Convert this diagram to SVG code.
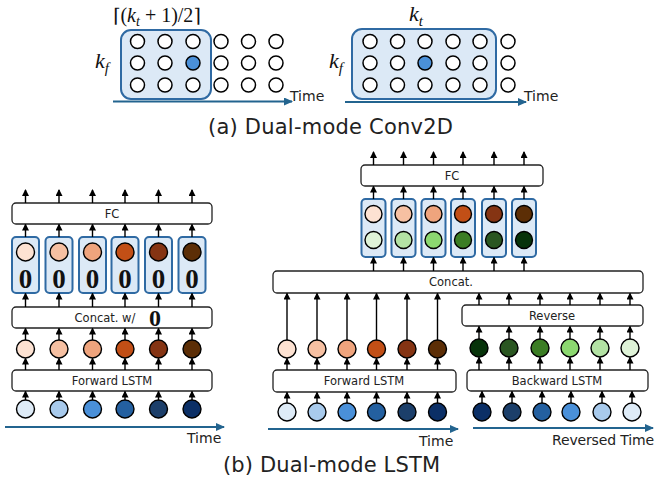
<svg xmlns="http://www.w3.org/2000/svg" width="656" height="485" viewBox="0 0 656 485">
<defs>
<marker id="ah" markerWidth="7" markerHeight="7" refX="6" refY="3.5" orient="auto" markerUnits="userSpaceOnUse"><path d="M0,0 L7,3.5 L0,7 z" fill="#000"/></marker>
<marker id="bh" markerWidth="9" markerHeight="8" refX="8" refY="4" orient="auto" markerUnits="userSpaceOnUse"><path d="M0,0 L9,4 L0,8 z" fill="#23648f"/></marker>
<style>
.box{fill:#fff;stroke:#222;stroke-width:1.3}
.cell{fill:#dce9f6;stroke:#2f6aa3;stroke-width:2}
.grid{fill:#dce9f6;stroke:#2f6aa3;stroke-width:2}
.c{stroke:#000;stroke-width:1.4}
.w{fill:#fff;stroke:#000;stroke-width:1.5}
.ar line{stroke:#000;stroke-width:1.4;marker-end:url(#ah)}
.time{stroke:#23648f;stroke-width:2;marker-end:url(#bh);fill:none}
.lbl{font-family:'DejaVu Sans','Noto Sans',sans-serif;font-size:11.5px;fill:#222;text-anchor:middle}
.tl{font-family:'DejaVu Sans','Noto Sans',sans-serif;font-size:14px;fill:#222}
.cap{font-family:'DejaVu Sans','Noto Sans',sans-serif;font-size:21px;fill:#222}
.zero{font-family:'Liberation Serif','DejaVu Serif',serif;font-weight:bold;font-size:27px;fill:#111;text-anchor:middle}
.math{font-family:'Liberation Serif','DejaVu Serif',serif;fill:#111}
</style>
</defs>

<!-- (a) left conv -->
<g id="conv-left">
<rect class="grid" x="121" y="30" width="90" height="69" rx="10"/>
<g>
<circle class="w" cx="137.5" cy="41.5" r="7"/><circle class="w" cx="165" cy="41.5" r="7"/><circle class="w" cx="193" cy="41.5" r="7"/><circle class="w" cx="221" cy="41.5" r="7"/><circle class="w" cx="248.5" cy="41.5" r="7"/><circle class="w" cx="276" cy="41.5" r="7"/>
<circle class="w" cx="137.5" cy="63" r="7"/><circle class="w" cx="165" cy="63" r="7"/><circle class="w" cx="193" cy="63" r="7" style="fill:#4a90d9"/><circle class="w" cx="221" cy="63" r="7"/><circle class="w" cx="248.5" cy="63" r="7"/><circle class="w" cx="276" cy="63" r="7"/>
<circle class="w" cx="137.5" cy="85" r="7"/><circle class="w" cx="165" cy="85" r="7"/><circle class="w" cx="193" cy="85" r="7"/><circle class="w" cx="221" cy="85" r="7"/><circle class="w" cx="248.5" cy="85" r="7"/><circle class="w" cx="276" cy="85" r="7"/>
</g>
<text class="math" x="113" y="22" font-size="20"><tspan font-family="'DejaVu Serif',serif" font-size="19">⌈</tspan>(<tspan font-style="italic">k</tspan><tspan font-style="italic" font-size="14" dy="4">t</tspan><tspan dy="-4"> + 1)/2</tspan><tspan font-family="'DejaVu Serif',serif" font-size="19">⌉</tspan></text>
<text class="math" x="95" y="68" font-size="22" font-style="italic">k<tspan font-size="15" dy="5">f</tspan></text>
<line class="time" x1="113" y1="101.5" x2="292" y2="101.5"/>
<text class="tl" x="290" y="101">Time</text>
</g>

<!-- (a) right conv -->
<g id="conv-right">
<rect class="grid" x="352" y="29" width="144" height="70" rx="10"/>
<g>
<circle class="w" cx="370" cy="41.5" r="7"/><circle class="w" cx="397.5" cy="41.5" r="7"/><circle class="w" cx="425" cy="41.5" r="7"/><circle class="w" cx="453" cy="41.5" r="7"/><circle class="w" cx="480" cy="41.5" r="7"/><circle class="w" cx="508" cy="41.5" r="7"/>
<circle class="w" cx="370" cy="63" r="7"/><circle class="w" cx="397.5" cy="63" r="7"/><circle class="w" cx="425" cy="63" r="7" style="fill:#4a90d9"/><circle class="w" cx="453" cy="63" r="7"/><circle class="w" cx="480" cy="63" r="7"/><circle class="w" cx="508" cy="63" r="7"/>
<circle class="w" cx="370" cy="85" r="7"/><circle class="w" cx="397.5" cy="85" r="7"/><circle class="w" cx="425" cy="85" r="7"/><circle class="w" cx="453" cy="85" r="7"/><circle class="w" cx="480" cy="85" r="7"/><circle class="w" cx="508" cy="85" r="7"/>
</g>
<text class="math" x="409" y="21" font-size="22" font-style="italic">k<tspan font-size="15" dy="5">t</tspan></text>
<text class="math" x="329" y="68" font-size="22" font-style="italic">k<tspan font-size="15" dy="5">f</tspan></text>
<line class="time" x1="345" y1="102" x2="526" y2="102"/>
<text class="tl" x="524" y="101">Time</text>
</g>

<text class="cap" x="208" y="134" textLength="245">(a) Dual-mode Conv2D</text>

<!-- (b) left -->
<g id="left-fc"><rect class="box" x="12" y="203" width="200" height="21" rx="4"/><text class="lbl" x="112" y="218">FC</text></g>
<g id="left-cells">
<rect class="cell" x="12" y="237" width="27" height="56" rx="4"/>
<rect class="cell" x="45.5" y="237" width="27" height="56" rx="4"/>
<rect class="cell" x="79" y="237" width="27" height="56" rx="4"/>
<rect class="cell" x="111.5" y="237" width="27" height="56" rx="4"/>
<rect class="cell" x="145" y="237" width="27" height="56" rx="4"/>
<rect class="cell" x="178.5" y="237" width="27" height="56" rx="4"/>
<circle class="c" cx="25.5" cy="252" r="9" fill="#fde2d2"/>
<circle class="c" cx="59" cy="252" r="9" fill="#f6c0a2"/>
<circle class="c" cx="92.5" cy="252" r="9" fill="#efa47d"/>
<circle class="c" cx="125" cy="252" r="9" fill="#c24f16"/>
<circle class="c" cx="158.5" cy="252" r="9" fill="#853413"/>
<circle class="c" cx="192" cy="252" r="9" fill="#5c2e06"/>
<text class="zero" x="25.5" y="288">0</text><text class="zero" x="59" y="288">0</text><text class="zero" x="92.5" y="288">0</text><text class="zero" x="125" y="288">0</text><text class="zero" x="158.5" y="288">0</text><text class="zero" x="192" y="288">0</text>
</g>
<g id="left-concat"><rect class="box" x="12" y="307" width="200" height="21" rx="4"/><text class="lbl" x="105" y="322">Concat. w/</text><text class="zero" x="155" y="326" style="font-size:24px">0</text></g>
<g id="left-fwd-out">
<circle class="c" cx="25.5" cy="349" r="9" fill="#fde2d2"/>
<circle class="c" cx="59" cy="349" r="9" fill="#f6c0a2"/>
<circle class="c" cx="92.5" cy="349" r="9" fill="#efa47d"/>
<circle class="c" cx="125" cy="349" r="9" fill="#c24f16"/>
<circle class="c" cx="158.5" cy="349" r="9" fill="#853413"/>
<circle class="c" cx="192" cy="349" r="9" fill="#5c2e06"/>
</g>
<g id="left-lstm"><rect class="box" x="12" y="370" width="200" height="21" rx="4"/><text class="lbl" x="112" y="385">Forward LSTM</text></g>
<g id="left-input">
<circle class="c" cx="25.5" cy="409" r="9" fill="#deebf7"/>
<circle class="c" cx="59" cy="409" r="9" fill="#a8caec"/>
<circle class="c" cx="92.5" cy="409" r="9" fill="#4a90d9"/>
<circle class="c" cx="125" cy="409" r="9" fill="#2460a0"/>
<circle class="c" cx="158.5" cy="409" r="9" fill="#1c3f6a"/>
<circle class="c" cx="192" cy="409" r="9" fill="#0b2f66"/>
</g>

<!-- (b) right -->
<g id="right-fc"><rect class="box" x="361" y="165" width="182" height="21" rx="4"/><text class="lbl" x="452" y="180">FC</text></g>
<g id="right-cells">
<rect class="cell" x="361.5" y="199" width="24" height="58" rx="4"/>
<rect class="cell" x="391.5" y="199" width="24" height="58" rx="4"/>
<rect class="cell" x="421.5" y="199" width="24" height="58" rx="4"/>
<rect class="cell" x="451" y="199" width="24" height="58" rx="4"/>
<rect class="cell" x="482" y="199" width="24" height="58" rx="4"/>
<rect class="cell" x="512" y="199" width="24" height="58" rx="4"/>
<circle class="c" cx="373.5" cy="214" r="8.5" fill="#fde2d2"/>
<circle class="c" cx="403.5" cy="214" r="8.5" fill="#f6c0a2"/>
<circle class="c" cx="433.5" cy="214" r="8.5" fill="#efa47d"/>
<circle class="c" cx="463" cy="214" r="8.5" fill="#c24f16"/>
<circle class="c" cx="494" cy="214" r="8.5" fill="#853413"/>
<circle class="c" cx="524" cy="214" r="8.5" fill="#5c2e06"/>
<circle class="c" cx="373.5" cy="240" r="8.5" fill="#dff3d8"/>
<circle class="c" cx="403.5" cy="240" r="8.5" fill="#b3e2a4"/>
<circle class="c" cx="433.5" cy="240" r="8.5" fill="#8cd870"/>
<circle class="c" cx="463" cy="240" r="8.5" fill="#3b7d24"/>
<circle class="c" cx="494" cy="240" r="8.5" fill="#2a5621"/>
<circle class="c" cx="524" cy="240" r="8.5" fill="#07330a"/>
</g>
<g id="right-concat"><rect class="box" x="273" y="271" width="370" height="22" rx="4"/><text class="lbl" x="451" y="286">Concat.</text></g>
<g id="right-reverse"><rect class="box" x="462" y="305" width="181" height="21" rx="4"/><text class="lbl" x="552" y="320">Reverse</text></g>
<g id="right-fwd-out">
<circle class="c" cx="287" cy="349" r="9" fill="#fde2d2"/>
<circle class="c" cx="317" cy="349" r="9" fill="#f6c0a2"/>
<circle class="c" cx="347" cy="349" r="9" fill="#efa47d"/>
<circle class="c" cx="376.5" cy="349" r="9" fill="#c24f16"/>
<circle class="c" cx="407" cy="349" r="9" fill="#853413"/>
<circle class="c" cx="437.5" cy="349" r="9" fill="#5c2e06"/>
</g>
<g id="right-bwd-out">
<circle class="c" cx="479" cy="348" r="9" fill="#07330a"/>
<circle class="c" cx="509" cy="348" r="9" fill="#2a5621"/>
<circle class="c" cx="540" cy="348" r="9" fill="#3b7d24"/>
<circle class="c" cx="570" cy="348" r="9" fill="#8cd870"/>
<circle class="c" cx="600" cy="348" r="9" fill="#b3e2a4"/>
<circle class="c" cx="630" cy="348" r="9" fill="#dff3d8"/>
</g>
<g id="right-fwd-lstm"><rect class="box" x="273" y="370" width="183" height="22" rx="4"/><text class="lbl" x="364" y="385">Forward LSTM</text></g>
<g id="right-bwd-lstm"><rect class="box" x="467" y="370" width="181" height="21" rx="4"/><text class="lbl" x="557" y="385">Backward LSTM</text></g>
<g id="right-fwd-input">
<circle class="c" cx="287" cy="412" r="9" fill="#deebf7"/>
<circle class="c" cx="317" cy="412" r="9" fill="#a8caec"/>
<circle class="c" cx="347" cy="412" r="9" fill="#4a90d9"/>
<circle class="c" cx="376.5" cy="412" r="9" fill="#2460a0"/>
<circle class="c" cx="407" cy="412" r="9" fill="#1c3f6a"/>
<circle class="c" cx="437.5" cy="412" r="9" fill="#0b2f66"/>
</g>
<g id="right-bwd-input">
<circle class="c" cx="482" cy="412" r="9" fill="#0b2f66"/>
<circle class="c" cx="512" cy="412" r="9" fill="#1c3f6a"/>
<circle class="c" cx="542" cy="412" r="9" fill="#2460a0"/>
<circle class="c" cx="571" cy="412" r="9" fill="#4a90d9"/>
<circle class="c" cx="602" cy="412" r="9" fill="#a8caec"/>
<circle class="c" cx="632" cy="412" r="9" fill="#deebf7"/>
</g>

<g id="connectors">
<g class="ar">
<line x1="25.5" y1="203" x2="25.5" y2="190"/><line x1="59" y1="203" x2="59" y2="190"/><line x1="92.5" y1="203" x2="92.5" y2="190"/><line x1="125" y1="203" x2="125" y2="190"/><line x1="158.5" y1="203" x2="158.5" y2="190"/><line x1="192" y1="203" x2="192" y2="190"/>
<line x1="25.5" y1="237" x2="25.5" y2="224.5"/><line x1="59" y1="237" x2="59" y2="224.5"/><line x1="92.5" y1="237" x2="92.5" y2="224.5"/><line x1="125" y1="237" x2="125" y2="224.5"/><line x1="158.5" y1="237" x2="158.5" y2="224.5"/><line x1="192" y1="237" x2="192" y2="224.5"/>
<line x1="25.5" y1="307" x2="25.5" y2="293.5"/><line x1="59" y1="307" x2="59" y2="293.5"/><line x1="92.5" y1="307" x2="92.5" y2="293.5"/><line x1="125" y1="307" x2="125" y2="293.5"/><line x1="158.5" y1="307" x2="158.5" y2="293.5"/><line x1="192" y1="307" x2="192" y2="293.5"/>
<line x1="25.5" y1="340" x2="25.5" y2="328.5"/><line x1="59" y1="340" x2="59" y2="328.5"/><line x1="92.5" y1="340" x2="92.5" y2="328.5"/><line x1="125" y1="340" x2="125" y2="328.5"/><line x1="158.5" y1="340" x2="158.5" y2="328.5"/><line x1="192" y1="340" x2="192" y2="328.5"/>
<line x1="25.5" y1="370" x2="25.5" y2="358.5"/><line x1="59" y1="370" x2="59" y2="358.5"/><line x1="92.5" y1="370" x2="92.5" y2="358.5"/><line x1="125" y1="370" x2="125" y2="358.5"/><line x1="158.5" y1="370" x2="158.5" y2="358.5"/><line x1="192" y1="370" x2="192" y2="358.5"/>
<line x1="25.5" y1="400" x2="25.5" y2="391.5"/><line x1="59" y1="400" x2="59" y2="391.5"/><line x1="92.5" y1="400" x2="92.5" y2="391.5"/><line x1="125" y1="400" x2="125" y2="391.5"/><line x1="158.5" y1="400" x2="158.5" y2="391.5"/><line x1="192" y1="400" x2="192" y2="391.5"/>
<line x1="373.5" y1="165" x2="373.5" y2="152"/><line x1="403.5" y1="165" x2="403.5" y2="152"/><line x1="433.5" y1="165" x2="433.5" y2="152"/><line x1="463" y1="165" x2="463" y2="152"/><line x1="494" y1="165" x2="494" y2="152"/><line x1="524" y1="165" x2="524" y2="152"/>
<line x1="373.5" y1="199" x2="373.5" y2="186.5"/><line x1="403.5" y1="199" x2="403.5" y2="186.5"/><line x1="433.5" y1="199" x2="433.5" y2="186.5"/><line x1="463" y1="199" x2="463" y2="186.5"/><line x1="494" y1="199" x2="494" y2="186.5"/><line x1="524" y1="199" x2="524" y2="186.5"/>
<line x1="373.5" y1="271" x2="373.5" y2="257.5"/><line x1="403.5" y1="271" x2="403.5" y2="257.5"/><line x1="433.5" y1="271" x2="433.5" y2="257.5"/><line x1="463" y1="271" x2="463" y2="257.5"/><line x1="494" y1="271" x2="494" y2="257.5"/><line x1="524" y1="271" x2="524" y2="257.5"/>
<line x1="287" y1="340" x2="287" y2="293.5"/><line x1="317" y1="340" x2="317" y2="293.5"/><line x1="347" y1="340" x2="347" y2="293.5"/><line x1="376.5" y1="340" x2="376.5" y2="293.5"/><line x1="407" y1="340" x2="407" y2="293.5"/><line x1="437.5" y1="340" x2="437.5" y2="293.5"/>
<line x1="479" y1="305" x2="479" y2="293.5"/><line x1="509" y1="305" x2="509" y2="293.5"/><line x1="540" y1="305" x2="540" y2="293.5"/><line x1="570" y1="305" x2="570" y2="293.5"/><line x1="600" y1="305" x2="600" y2="293.5"/><line x1="630" y1="305" x2="630" y2="293.5"/>
<line x1="479" y1="339" x2="479" y2="326.5"/><line x1="509" y1="339" x2="509" y2="326.5"/><line x1="540" y1="339" x2="540" y2="326.5"/><line x1="570" y1="339" x2="570" y2="326.5"/><line x1="600" y1="339" x2="600" y2="326.5"/><line x1="630" y1="339" x2="630" y2="326.5"/>
<line x1="287" y1="370" x2="287" y2="358.5"/><line x1="317" y1="370" x2="317" y2="358.5"/><line x1="347" y1="370" x2="347" y2="358.5"/><line x1="376.5" y1="370" x2="376.5" y2="358.5"/><line x1="407" y1="370" x2="407" y2="358.5"/><line x1="437.5" y1="370" x2="437.5" y2="358.5"/>
<line x1="479" y1="370" x2="479" y2="357.5"/><line x1="509" y1="370" x2="509" y2="357.5"/><line x1="540" y1="370" x2="540" y2="357.5"/><line x1="570" y1="370" x2="570" y2="357.5"/><line x1="600" y1="370" x2="600" y2="357.5"/><line x1="630" y1="370" x2="630" y2="357.5"/>
<line x1="287" y1="403" x2="287" y2="392.5"/><line x1="317" y1="403" x2="317" y2="392.5"/><line x1="347" y1="403" x2="347" y2="392.5"/><line x1="376.5" y1="403" x2="376.5" y2="392.5"/><line x1="407" y1="403" x2="407" y2="392.5"/><line x1="437.5" y1="403" x2="437.5" y2="392.5"/>
<line x1="482" y1="403" x2="482" y2="391.5"/><line x1="512" y1="403" x2="512" y2="391.5"/><line x1="542" y1="403" x2="542" y2="391.5"/><line x1="571" y1="403" x2="571" y2="391.5"/><line x1="602" y1="403" x2="602" y2="391.5"/><line x1="632" y1="403" x2="632" y2="391.5"/>
</g>
<line class="time" x1="5" y1="427" x2="224" y2="427"/>
<line class="time" x1="268" y1="429" x2="458" y2="429"/>
<line class="time" x1="473" y1="428" x2="653" y2="428"/>
</g>

<text class="tl" x="187" y="443">Time</text>
<text class="tl" x="419" y="446">Time</text>
<text class="tl" x="552" y="445" textLength="102">Reversed Time</text>
<text class="cap" x="223" y="472" textLength="217">(b) Dual-mode LSTM</text>
</svg>
